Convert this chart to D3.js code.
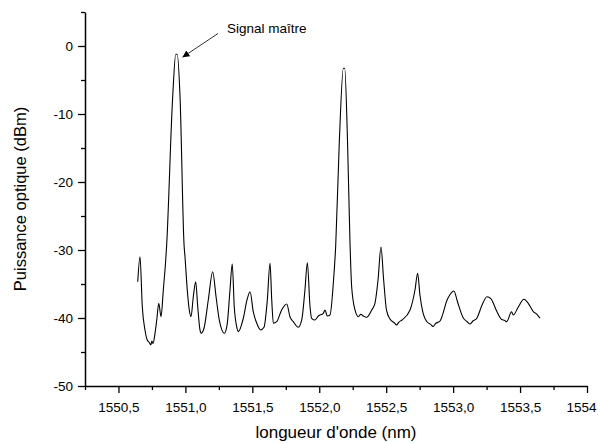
<!DOCTYPE html>
<html>
<head>
<meta charset="utf-8">
<script src="https://cdn.jsdelivr.net/npm/d3@7"></script>
<style>
  html, body { margin: 0; padding: 0; background: #fff; }
  svg { display: block; font-family: "Liberation Sans", Arial, sans-serif; }
</style>
</head>
<body>
<svg id="chart" width="598" height="443"></svg>
<script>
// Optical spectrum: wavelength (nm) and power (dBm)
const wavelength = [
  1550.644, 1550.661, 1550.678, 1550.698, 1550.715, 1550.730, 1550.741, 1550.750, 1550.758,
  1550.773, 1550.786, 1550.801, 1550.818, 1550.835, 1550.853, 1550.860, 1550.905,
  1550.928, 1550.939, 1550.960, 1550.990, 1550.997, 1551.014, 1551.029, 1551.042,
  1551.059, 1551.077, 1551.092, 1551.109, 1551.117, 1551.139, 1551.171, 1551.204,
  1551.229, 1551.253, 1551.291, 1551.313, 1551.333, 1551.350, 1551.365, 1551.383,
  1551.395, 1551.433, 1551.460, 1551.483, 1551.507, 1551.533, 1551.563, 1551.587,
  1551.612, 1551.632, 1551.645, 1551.657, 1551.682, 1551.719, 1551.757, 1551.781,
  1551.806, 1551.843, 1551.869, 1551.893, 1551.911, 1551.931, 1551.943, 1551.968,
  1551.993, 1552.030, 1552.043, 1552.060, 1552.080, 1552.105, 1552.123, 1552.150,
  1552.180, 1552.190, 1552.211, 1552.230, 1552.242, 1552.267, 1552.292, 1552.310,
  1552.329, 1552.354, 1552.392, 1552.416, 1552.439, 1552.461, 1552.481, 1552.502,
  1552.528, 1552.560, 1552.577, 1552.595, 1552.618, 1552.678, 1552.715, 1552.735,
  1552.752, 1552.775, 1552.805, 1552.830, 1552.850, 1552.870, 1552.902, 1552.958,
  1553.006, 1553.033, 1553.076, 1553.105, 1553.126, 1553.150, 1553.176, 1553.216,
  1553.253, 1553.283, 1553.325, 1553.363, 1553.385, 1553.400, 1553.437, 1553.449,
  1553.487, 1553.529, 1553.561, 1553.599, 1553.626, 1553.649
];
const power = [
  -34.66, -30.99, -38.34, -41.76, -43.24, -43.60, -43.97, -43.40, -43.75,
  -42.25, -40.29, -37.84, -39.81, -35.88, -31.47, -29.26, -7.46,
  -1.22, -1.22, -7.50, -29.26, -30.99, -35.88, -38.82, -39.81,
  -36.87, -34.66, -38.34, -41.76, -42.25, -41.51, -37.35, -33.19,
  -36.87, -40.29, -42.25, -40.78, -35.88, -32.06, -38.34, -41.28,
  -42.01, -40.00, -37.35, -36.13, -39.07, -40.78, -41.76, -41.37,
  -37.35, -31.96, -37.35, -40.78, -40.54, -38.82, -37.94, -39.81,
  -40.54, -41.37, -40.29, -35.88, -31.87, -38.34, -40.04, -40.29,
  -39.71, -39.31, -38.82, -39.71, -39.56, -34.90, -29.26, -13.97,
  -3.28, -3.28, -13.97, -29.26, -35.40, -38.82, -39.81, -39.45,
  -39.71, -39.90, -38.82, -37.84, -34.41, -29.56, -34.41, -38.82,
  -40.15, -40.70, -41.03, -40.60, -40.29, -38.82, -35.88, -33.43,
  -36.62, -39.26, -40.59, -40.90, -41.25, -40.80, -40.44, -37.21,
  -36.03, -37.65, -40.00, -40.55, -40.88, -40.40, -40.07, -38.09,
  -36.87, -37.18, -38.97, -40.22, -40.35, -40.54, -39.07, -39.56,
  -38.38, -37.25, -37.84, -39.07, -39.46, -40.04
];

// Axis ticks
const xMajor = [1550.5, 1551.0, 1551.5, 1552.0, 1552.5, 1553.0, 1553.5, 1554.0];
const xLabels = ["1550,5", "1551,0", "1551,5", "1552,0", "1552,5", "1553,0", "1553,5", "1554"];
const xMinor = [1550.25, 1550.75, 1551.25, 1551.75, 1552.25, 1552.75, 1553.25, 1553.75];
const yMajor = [-50, -40, -30, -20, -10, 0];
const yMinor = [-45, -35, -25, -15, -5, 5];

const xTitle = "longueur d'onde (nm)";
const yTitle = "Puissance optique (dBm)";
const noteText = "Signal maître";
const notePeak = { wl: 1550.933, dbm: -1.22 };

const svg = d3.select("#chart");
const W = +svg.attr("width");
const plotLeft = 85, plotRight = 587, plotTop = 12, plotBottom = 386;

const x = d3.scaleLinear().domain([1550.25, 1554]).range([plotLeft, plotRight]);
const y = d3.scaleLinear().domain([-50, 5]).range([plotBottom, plotTop]);

// Minor ticks
svg.append("g")
  .attr("transform", `translate(0,${plotBottom})`)
  .call(d3.axisBottom(x).tickValues(xMinor).tickSize(4).tickFormat(""))
  .call(g => g.select(".domain").remove())
  .selectAll("line").attr("stroke", "#000").attr("stroke-width", 1.3);

svg.append("g")
  .attr("transform", `translate(${plotLeft},0)`)
  .call(d3.axisLeft(y).tickValues(yMinor).tickSize(4).tickFormat(""))
  .call(g => g.select(".domain").remove())
  .selectAll("line").attr("stroke", "#000").attr("stroke-width", 1.3);

// Major axes
const xAxis = svg.append("g")
  .attr("transform", `translate(0,${plotBottom})`)
  .call(d3.axisBottom(x).tickValues(xMajor).tickSize(7).tickSizeOuter(0).tickPadding(9)
    .tickFormat((d, i) => xLabels[i]));

const yAxis = svg.append("g")
  .attr("transform", `translate(${plotLeft},0)`)
  .call(d3.axisLeft(y).tickValues(yMajor).tickSize(7).tickSizeOuter(0).tickPadding(5)
    .tickFormat(d => d < 0 ? "-" + Math.abs(d) : String(d)));

[xAxis, yAxis].forEach(g => {
  g.select(".domain").attr("stroke", "#000").attr("stroke-width", 1.5);
  g.selectAll(".tick line").attr("stroke", "#000").attr("stroke-width", 1.3);
  g.selectAll(".tick text")
    .attr("fill", "#000")
    .style("font-family", '"Liberation Sans", Arial, sans-serif')
    .style("font-size", "13.5px");
});

// Keep the last x label inside the drawing area
xAxis.selectAll(".tick text").each(function () {
  const box = this.getBBox();
  const tx = +this.parentNode.getAttribute("transform").match(/translate\(([-\d.]+)/)[1];
  const overflow = tx + box.x + box.width - (W - 1);
  if (overflow > 0) this.setAttribute("x", -overflow);
});

// Spectrum trace
const pts = wavelength.map((w, i) => [w, power[i]]);
svg.append("path")
  .datum(pts)
  .attr("fill", "none")
  .attr("stroke", "#000")
  .attr("stroke-width", 1.1)
  .attr("stroke-linejoin", "round")
  .attr("d", d3.line().curve(d3.curveMonotoneX).x(d => x(d[0])).y(d => y(d[1])));

// Axis titles
svg.append("text")
  .attr("x", (plotLeft + plotRight) / 2)
  .attr("y", 438)
  .attr("text-anchor", "middle")
  .style("font-size", "17px")
  .text(xTitle);

svg.append("text")
  .attr("transform", `translate(25.5,${(plotTop + plotBottom) / 2}) rotate(-90)`)
  .attr("text-anchor", "middle")
  .style("font-size", "16.5px")
  .text(yTitle);

// Annotation with arrow
svg.append("defs").append("marker")
  .attr("id", "arrowhead")
  .attr("viewBox", "0 0 10 10")
  .attr("refX", 10).attr("refY", 5)
  .attr("markerWidth", 7).attr("markerHeight", 7)
  .attr("markerUnits", "userSpaceOnUse")
  .attr("orient", "auto")
  .append("path").attr("d", "M0,0 L10,5 L0,10 Z").attr("fill", "#000");

svg.append("line")
  .attr("x1", 218).attr("y1", 33.5)
  .attr("x2", x(notePeak.wl) + 6).attr("y2", y(notePeak.dbm) + 3)
  .attr("stroke", "#000").attr("stroke-width", 0.8)
  .attr("marker-end", "url(#arrowhead)");

svg.append("text")
  .attr("x", 227)
  .attr("y", 33)
  .style("font-size", "13.5px")
  .text(noteText);
</script>
</body>
</html>
